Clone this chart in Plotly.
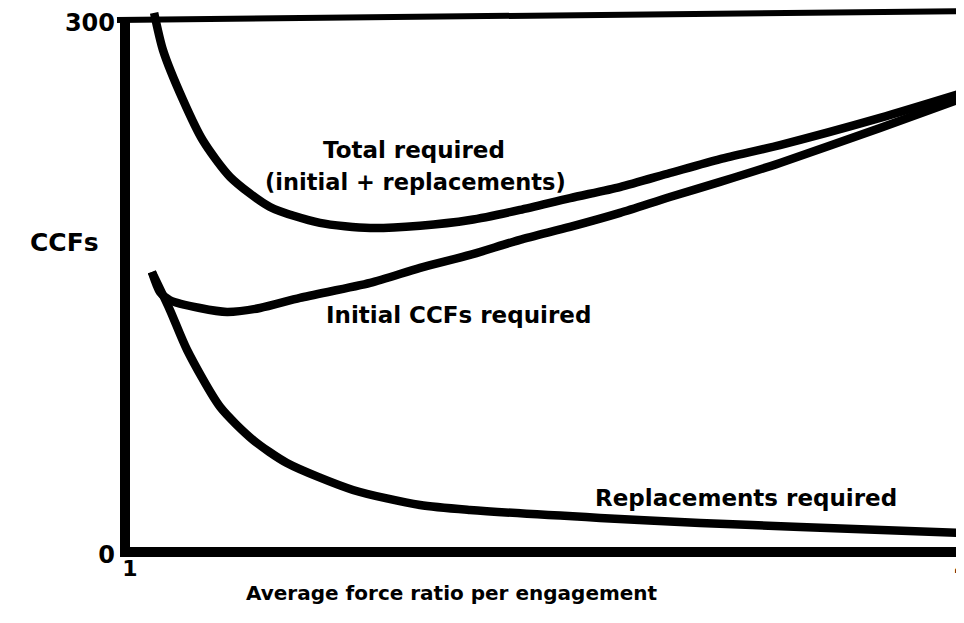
import plotly.graph_objects as go

# ---- data ----
total_x = [1.087, 1.119, 1.191, 1.263, 1.361, 1.505, 1.685, 1.866, 2.046, 2.226, 2.406, 2.587, 2.767, 2.947, 3.128, 3.344, 3.705, 4.004]
total_y = [304, 283, 255, 232, 211.5, 194.6, 185.6, 182.7, 184, 187.2, 192.9, 199.6, 205.8, 213.7, 221.6, 229.5, 244.8, 258.9]

initial_x = [1.079, 1.108, 1.144, 1.252, 1.350, 1.469, 1.613, 1.866, 2.046, 2.226, 2.406, 2.587, 2.767, 2.947, 3.128, 3.344, 3.705, 4.004]
initial_y = [157.9, 146.6, 142, 137.6, 135.4, 137.6, 143.3, 151.7, 160.2, 167.5, 176, 183.3, 191.2, 200.2, 208.7, 219.4, 239.1, 256]

repl_x = [1.079, 1.144, 1.206, 1.325, 1.444, 1.566, 1.804, 2.046, 2.226, 2.695, 3.056, 3.417, 4.007]
repl_y = [157.9, 136.5, 113.9, 81.8, 63.2, 50.2, 35, 26.5, 23.7, 19.2, 16.4, 14.1, 10.7]

x_ticks = [1, 4]
x_tick_labels = ["1", "4"]
y_ticks = [0, 300]
y_tick_labels = ["0", "300"]

X_RANGE = [0.982, 4.0365]
Y_RANGE = [0, 306.2]

FONT = "DejaVu Sans"
fig = go.Figure()
for xs, ys in [(total_x, total_y), (initial_x, initial_y), (repl_x, repl_y)]:
    fig.add_trace(go.Scatter(x=xs, y=ys, mode="lines",
                             line=dict(color="black", width=8.5, shape="spline", smoothing=0.7),
                             hoverinfo="skip", showlegend=False))

PLOT_W, PLOT_H = 847, 543
ytop = 300 / Y_RANGE[1]
shapes = [
    dict(type="line", xref="paper", yref="paper", x0=0, x1=1, y0=0, y1=0,
         line=dict(color="black", width=10)),
    dict(type="line", xref="paper", yref="paper", x0=0, x1=0, y0=-5 / PLOT_H, y1=ytop,
         line=dict(color="black", width=10)),
    dict(type="line", xref="paper", yref="paper", x0=-8 / PLOT_W, x1=1, y0=ytop, y1=ytop + 9 / PLOT_H,
         line=dict(color="black", width=6)),
]

tfont = dict(family=FONT, size=23, color="black", weight="bold")
annotations = [
    dict(x=2.024, y=226.7, text="Total required", showarrow=False,
         font=tfont, xref="x", yref="y"),
    dict(x=2.028, y=208.7, text="(initial + replacements)", showarrow=False,
         font=dict(family=FONT, size=22.5, color="black", weight="bold"), xref="x", yref="y"),
    dict(x=2.183, y=133.6, text="Initial CCFs required", showarrow=False,
         font=tfont, xref="x", yref="y"),
    dict(x=3.221, y=30.5, text="Replacements required", showarrow=False,
         font=tfont, xref="x", yref="y"),
    dict(text="CCFs", showarrow=False, font=dict(family=FONT, size=25, color="black", weight="bold"),
         xref="paper", yref="paper", x=(65 - 125) / PLOT_W, y=(552 - 242) / PLOT_H,
         xanchor="center", yanchor="middle"),
    dict(text="Average force ratio per engagement", showarrow=False,
         font=dict(family=FONT, size=20, color="black", weight="bold"),
         xref="x", yref="paper", x=2.161, y=(552 - 593) / PLOT_H,
         xanchor="center", yanchor="middle"),
]

fig.update_layout(
    width=964, height=623,
    margin=dict(l=117, r=0, t=1, b=79),
    paper_bgcolor="white", plot_bgcolor="white",
    shapes=shapes, annotations=annotations,
    xaxis=dict(range=X_RANGE, showgrid=False, zeroline=False, showline=False, automargin=False,
               tickvals=x_ticks, ticktext=x_tick_labels, ticks="", ticklabelstandoff=1,
               ticklabeloverflow="allow",
               tickfont=dict(family=FONT, size=22, color="black", weight="bold")),
    yaxis=dict(range=Y_RANGE, showgrid=False, zeroline=False, showline=False, automargin=False,
               tickvals=y_ticks, ticktext=y_tick_labels, ticks="", ticklabelstandoff=9,
               ticklabeloverflow="allow", ticklabelshift=3,
               tickfont=dict(family=FONT, size=24, color="black", weight="bold")),
)

fig.write_html("out.html")
